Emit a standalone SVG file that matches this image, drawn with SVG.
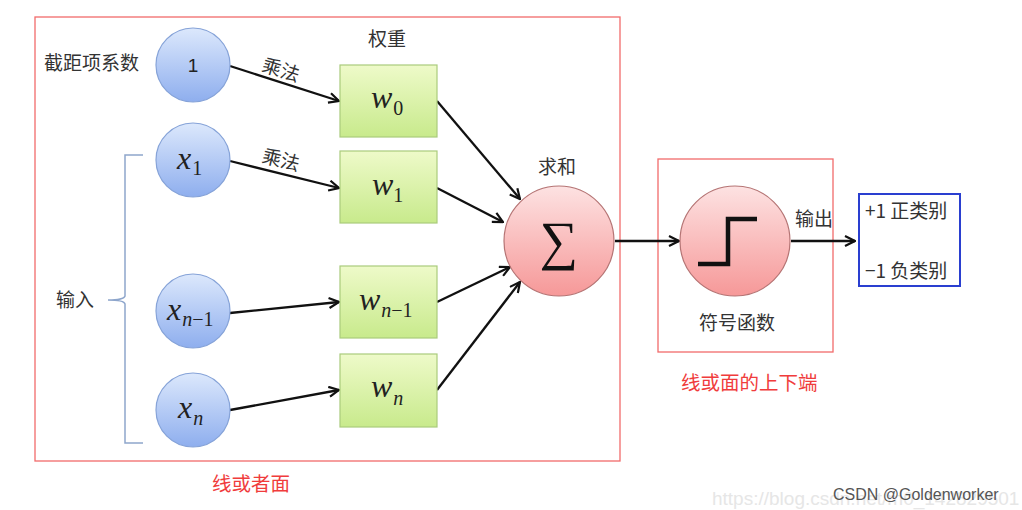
<svg xmlns="http://www.w3.org/2000/svg" width="1022" height="510" viewBox="0 0 1022 510">
<defs>
<linearGradient id="gBlue" x1="0" y1="0" x2="0" y2="1"><stop offset="0" stop-color="#dce8fc"/><stop offset="1" stop-color="#8eaeee"/></linearGradient>
<linearGradient id="gPink" x1="0" y1="0" x2="0" y2="1"><stop offset="0" stop-color="#fde2e2"/><stop offset="1" stop-color="#f69898"/></linearGradient>
<linearGradient id="gGreen" x1="0" y1="0" x2="0" y2="1"><stop offset="0" stop-color="#eefac9"/><stop offset="1" stop-color="#c8ea8c"/></linearGradient>
<marker id="arr" viewBox="0 0 12 12" refX="11" refY="6" markerWidth="12" markerHeight="12" markerUnits="userSpaceOnUse" orient="auto">
<path d="M1,1 L11,6 L1,11" fill="none" stroke="#111" stroke-width="2.2" stroke-linejoin="miter"/>
</marker>
</defs>
<style>
.cn{font-family:"Noto Sans CJK SC","Noto Sans",sans-serif;fill:#333;font-size:19px}
.red{fill:#f03c3c;font-size:19.5px}
.math{font-family:"Liberation Serif",serif;font-style:italic;fill:#222;font-size:32px}
.sub{font-size:20px}
.up{font-style:normal}
.bc{fill:url(#gBlue);stroke:#86a3d8;stroke-width:1.2}
.pc{fill:url(#gPink);stroke:#b57474;stroke-width:1.2}
.box{fill:url(#gGreen);stroke:#aacb7c;stroke-width:1.2}
.frame{fill:none;stroke:#f26b6b;stroke-width:1.3}
.con{fill:none;stroke:#111;stroke-width:2.3;marker-end:url(#arr)}
</style>
<rect width="1022" height="510" fill="#fff"/>
<g id="frames">
<rect class="frame" x="35" y="17" width="585" height="444"/>
<rect class="frame" x="658" y="159" width="175" height="193"/>
<rect x="859" y="194" width="101" height="92" fill="none" stroke="#2a3fd0" stroke-width="2"/>
</g>
<g id="connectors">
<line class="con" x1="230" y1="66" x2="339" y2="101"/>
<line class="con" x1="230" y1="161" x2="339" y2="188"/>
<line class="con" x1="230" y1="313" x2="339" y2="302"/>
<line class="con" x1="230" y1="410" x2="339" y2="390"/>
<line class="con" x1="437" y1="101" x2="520" y2="199"/>
<line class="con" x1="437" y1="188" x2="503" y2="222"/>
<line class="con" x1="437" y1="302" x2="510" y2="267"/>
<line class="con" x1="437" y1="390" x2="520" y2="282"/>
<line class="con" x1="615" y1="241" x2="679" y2="241"/>
<line class="con" x1="791" y1="241" x2="855" y2="241"/>
</g>
<g id="brace">
<path d="M143,155 L125,155 L125,296 Q124,300 108,300 Q124,300 125,304 L125,443 L143,443" fill="none" stroke="#8ea6cc" stroke-width="1.5"/>
<text class="cn" x="56" y="307">输入</text>
</g>
<g id="n_bias"><circle class="bc" cx="193" cy="65" r="37"/><text x="193" y="72" text-anchor="middle" font-family="Liberation Sans,sans-serif" font-size="19" fill="#222">1</text></g>
<g id="n_x1"><circle class="bc" cx="193" cy="160" r="37"/><text class="math" x="177" y="169">x<tspan class="sub up" dx="1" dy="6">1</tspan></text></g>
<g id="n_xn1"><circle class="bc" cx="193" cy="311" r="37"/><text class="math" x="167" y="320">x<tspan class="sub" dx="1" dy="6">n</tspan><tspan class="sub up">−1</tspan></text></g>
<g id="n_xn"><circle class="bc" cx="193" cy="410" r="37"/><text class="math" x="178" y="418">x<tspan class="sub" dx="1" dy="7">n</tspan></text></g>
<g id="n_w0"><rect class="box" x="340" y="65" width="97" height="72"/><text class="math" x="371" y="108">w<tspan class="sub up" dx="1" dy="7">0</tspan></text></g>
<g id="n_w1"><rect class="box" x="340" y="151" width="97" height="72"/><text class="math" x="372" y="195">w<tspan class="sub up" dx="0" dy="7">1</tspan></text></g>
<g id="n_wn1"><rect class="box" x="340" y="266" width="97" height="72"/><text class="math" x="359" y="310">w<tspan class="sub" dx="1" dy="7">n</tspan><tspan class="sub up">−1</tspan></text></g>
<g id="n_wn"><rect class="box" x="340" y="354" width="97" height="73"/><text class="math" x="371" y="397">w<tspan class="sub" dx="1" dy="8">n</tspan></text></g>
<g id="n_sum"><circle class="pc" cx="559" cy="241" r="55"/><text x="559" y="259" text-anchor="middle" font-family="Liberation Serif,serif" font-size="54" fill="#111">∑</text></g>
<g id="n_sign"><circle class="pc" cx="735" cy="241" r="55"/><path d="M698,264 L728,264 L728,219 L757,219" fill="none" stroke="#111" stroke-width="4.5"/></g>
<g id="labels">
<text class="cn" x="44" y="70">截距项系数</text>
<text class="cn" x="368" y="46">权重</text>
<text class="cn" x="262" y="77" transform="rotate(17 282 70)">乘法</text>
<text class="cn" x="262" y="167" transform="rotate(14 282 160)">乘法</text>
<text class="cn" x="538" y="174">求和</text>
<text class="cn" x="699" y="330">符号函数</text>
<text class="cn" x="795" y="226">输出</text>
<text class="cn" x="865" y="218">+1 正类别</text>
<text class="cn" x="865" y="278">−1 负类别</text>
<text class="cn red" x="681" y="390">线或面的上下端</text>
<text class="cn red" x="212" y="491">线或者面</text>
</g>
<g id="watermark">
<text x="712" y="505" font-family="Liberation Sans,sans-serif" font-size="19" fill="#e6e6e6">https://blog.csdn.net/m0_142829501</text>
<text x="833" y="500" font-family="Liberation Sans,sans-serif" font-size="16" fill="#555">CSDN @Goldenworker</text>
</g>
</svg>
